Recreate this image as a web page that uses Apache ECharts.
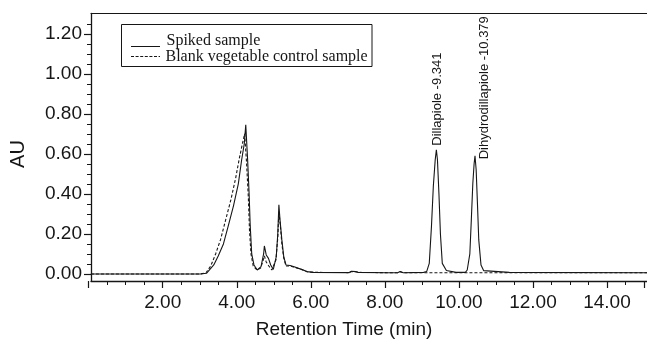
<!DOCTYPE html>
<html><head><meta charset="utf-8">
<script src="https://cdn.jsdelivr.net/npm/echarts@6/dist/echarts.min.js"></script>
<style>html,body{margin:0;padding:0;background:#fff}#c{width:647px;height:346px}</style>
</head><body><div id="c"></div>
<script>
// ---- data ----
const spikedTime = [0.06, 3.00, 3.17, 3.22, 3.36, 3.48, 3.62, 3.75, 3.89, 4.02, 4.11, 4.18, 4.22, 4.27, 4.31, 4.34, 4.38, 4.44, 4.53, 4.63, 4.70, 4.72, 4.77, 4.83, 4.89, 4.96, 5.04, 5.08, 5.11, 5.14, 5.19, 5.24, 5.30, 5.41, 5.50, 5.64, 5.72, 5.86, 6.04, 7.00, 7.06, 7.11, 7.17, 7.24, 8.00, 8.30, 8.37, 8.45, 9.00, 9.08, 9.15, 9.21, 9.26, 9.31, 9.341, 9.37, 9.41, 9.45, 9.50, 9.61, 9.87, 10.12, 10.17, 10.24, 10.28, 10.32, 10.355, 10.379, 10.41, 10.445, 10.48, 10.54, 10.61, 11.00, 11.30, 15.00];
const spikedAU = [0.000, 0.000, 0.004, 0.012, 0.045, 0.090, 0.150, 0.240, 0.340, 0.450, 0.570, 0.650, 0.745, 0.570, 0.400, 0.240, 0.100, 0.045, 0.020, 0.037, 0.100, 0.140, 0.095, 0.078, 0.045, 0.023, 0.087, 0.200, 0.345, 0.270, 0.170, 0.087, 0.045, 0.042, 0.037, 0.028, 0.023, 0.012, 0.008, 0.007, 0.014, 0.020, 0.012, 0.008, 0.006, 0.006, 0.012, 0.006, 0.008, 0.012, 0.053, 0.240, 0.440, 0.570, 0.620, 0.570, 0.400, 0.200, 0.053, 0.017, 0.008, 0.008, 0.020, 0.100, 0.270, 0.450, 0.550, 0.590, 0.520, 0.350, 0.170, 0.045, 0.017, 0.012, 0.008, 0.006];
const blankTime = [0.06, 3.00, 3.15, 3.28, 3.41, 3.54, 3.68, 3.82, 3.95, 4.05, 4.13, 4.19, 4.24, 4.29, 4.32, 4.36, 4.42, 4.52, 4.62, 4.69, 4.72, 4.77, 4.84, 4.92, 5.03, 5.08, 5.11, 5.15, 5.19, 5.24, 5.30, 5.41, 5.50, 5.64, 5.72, 5.86, 6.04, 7.00, 7.06, 7.11, 7.17, 7.24, 8.30, 8.37, 8.45, 9.00, 15.00];
const blankAU = [0.000, 0.000, 0.006, 0.040, 0.100, 0.170, 0.270, 0.370, 0.480, 0.580, 0.650, 0.700, 0.560, 0.380, 0.220, 0.100, 0.040, 0.020, 0.030, 0.070, 0.090, 0.060, 0.040, 0.020, 0.070, 0.180, 0.310, 0.240, 0.150, 0.080, 0.040, 0.040, 0.035, 0.027, 0.022, 0.012, 0.008, 0.007, 0.012, 0.018, 0.011, 0.008, 0.006, 0.011, 0.006, 0.006, 0.006];
const peakNames = ['Dillapiole -9.341', 'Dihydrodillapiole -10.379'];
const peakTimes = [9.341, 10.379];
const peakAU = [0.62, 0.59];
const seriesNames = ['Spiked sample', 'Blank vegetable control sample'];
const xAxisTitle = 'Retention Time (min)';
const yAxisTitle = 'AU';

// ---- layout / style (not data) ----
const labelOffsets = [[1, -4], [9, 3.5]];
const INK = '#161616';
const sans = 'Liberation Sans, Arial, sans-serif';
const serif = 'Liberation Serif, Times New Roman, serif';

const zip = (a, b) => a.map((v, i) => [v, b[i]]);
const chart = echarts.init(document.getElementById('c'), null, {renderer: 'canvas'});

const hiddenX = (g) => ({gridIndex: g, type: 'value', show: false, min: 0, max: 15});
const hiddenY = (g) => ({gridIndex: g, type: 'value', show: false, min: 0, max: 1});

chart.setOption({
  animation: false,
  backgroundColor: '#fff',
  grid: [
    {left: 91, right: 0, top: 13.5, bottom: 65},   // data + axis lines
    {left: 88.7, right: 0, top: 13.5, bottom: 65}, // x ticks / labels
    {left: 91, right: 0, top: 24, bottom: 72},     // y minor ticks
    {left: 91, right: 0, top: 34, bottom: 72}      // y major ticks / labels
  ],
  xAxis: [
    {gridIndex: 0, type: 'value', min: 0.062, max: 15, position: 'bottom',
     axisLine: {show: true, onZero: false, lineStyle: {color: INK, width: 1.3}},
     axisTick: {show: false}, axisLabel: {show: false}, splitLine: {show: false}},
    {gridIndex: 0, type: 'value', min: 0.062, max: 15, position: 'top',
     axisLine: {show: true, onZero: false, lineStyle: {color: INK, width: 1}},
     axisTick: {show: false}, axisLabel: {show: false}, splitLine: {show: false}},
    {gridIndex: 1, type: 'value', min: 0, max: 15, interval: 0.5, position: 'bottom',
     axisLine: {show: false}, axisTick: {show: true, inside: false, length: 4, lineStyle: {color: INK, width: 1}},
     axisLabel: {show: false}, splitLine: {show: false}},
    {gridIndex: 1, type: 'value', min: 0, max: 15, interval: 2, position: 'bottom',
     axisLine: {show: false}, axisTick: {show: true, inside: false, length: 7, lineStyle: {color: INK, width: 1.2}},
     axisLabel: {show: true, margin: 12, fontFamily: sans, fontSize: 19, color: INK,
       formatter: (v) => (v > 0 && v < 15 ? v.toFixed(2) : '')},
     splitLine: {show: false}},
    hiddenX(2),
    hiddenX(3)
  ],
  yAxis: [
    {gridIndex: 0, type: 'value', min: -0.035, max: 1.30,
     axisLine: {show: true, onZero: false, lineStyle: {color: INK, width: 1.3}},
     axisTick: {show: false}, axisLabel: {show: false}, splitLine: {show: false}},
    hiddenY(1),
    {gridIndex: 2, type: 'value', min: 0, max: 1.25, interval: 0.05,
     axisLine: {show: false}, axisTick: {show: true, length: 4, lineStyle: {color: INK, width: 1}},
     axisLabel: {show: false}, splitLine: {show: false}},
    {gridIndex: 3, type: 'value', min: 0, max: 1.2, interval: 0.2,
     axisLine: {show: false}, axisTick: {show: true, length: 7, lineStyle: {color: INK, width: 1.2}},
     axisLabel: {show: true, margin: 9, fontFamily: sans, fontSize: 19, color: INK,
       formatter: (v) => v.toFixed(2)},
     splitLine: {show: false},
     name: yAxisTitle, nameLocation: 'middle', nameGap: 63, nameRotate: 90,
     nameTextStyle: {fontFamily: sans, fontSize: 20, color: INK}}
  ],
  series: [
    {name: seriesNames[1], type: 'line', xAxisIndex: 0, yAxisIndex: 0, data: zip(blankTime, blankAU),
     showSymbol: false, symbol: 'none', z: 3,
     lineStyle: {color: INK, width: 1.1, type: [3, 2]}},
    {name: seriesNames[0], type: 'line', xAxisIndex: 0, yAxisIndex: 0, data: zip(spikedTime, spikedAU),
     showSymbol: false, symbol: 'none', z: 4,
     lineStyle: {color: INK, width: 1.1}}
  ]
});

// annotations + legend box, positioned through the chart's own scales
const graphics = [
  {type: 'rect', shape: {x: 121.5, y: 24.5, width: 250.5, height: 42},
   style: {fill: '#fff', stroke: INK, lineWidth: 1}, z: 10},
  {type: 'line', shape: {x1: 131, y1: 46.5, x2: 160, y2: 46.5}, style: {stroke: INK, lineWidth: 1}, z: 11},
  {type: 'line', shape: {x1: 131, y1: 56.5, x2: 160, y2: 56.5}, style: {stroke: INK, lineWidth: 1.2, lineDash: [3, 1.6]}, z: 11},
  {type: 'text', x: 166.5, y: 40.5, z: 11,
   style: {text: seriesNames[0], font: '16px ' + serif, fill: INK, align: 'left', verticalAlign: 'middle'}},
  {type: 'text', x: 165.5, y: 56.5, z: 11,
   style: {text: seriesNames[1], font: '16px ' + serif, fill: INK, align: 'left', verticalAlign: 'middle'}},
  {type: 'text', x: 344, y: 330, z: 11,
   style: {text: xAxisTitle, font: '19px ' + sans, fill: INK, align: 'center', verticalAlign: 'middle'}}
];
peakNames.forEach((name, i) => {
  const p = chart.convertToPixel({xAxisIndex: 0, yAxisIndex: 0}, [peakTimes[i], peakAU[i]]);
  graphics.push({type: 'text', x: p[0] + labelOffsets[i][0], y: p[1] + labelOffsets[i][1],
    rotation: Math.PI / 2, z: 11,
    style: {text: name, font: '13px ' + sans, fill: INK, align: 'left', verticalAlign: 'middle'}});
});
chart.setOption({graphic: graphics});
</script>
</body></html>
